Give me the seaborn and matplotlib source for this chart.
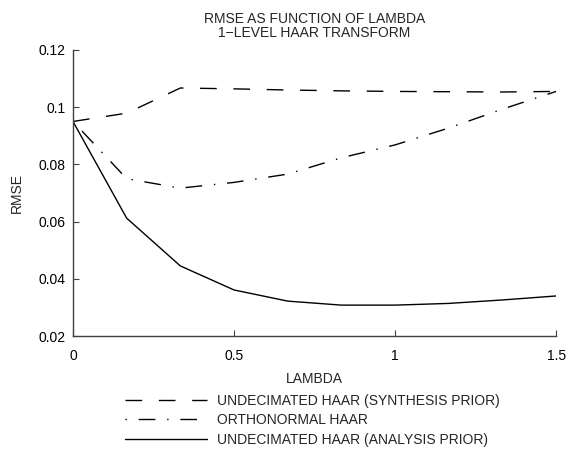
import matplotlib
matplotlib.use("Agg")
import matplotlib.pyplot as plt
import numpy as np
import pandas as pd
import seaborn as sns

# Lambda sampled at steps of 1/6 between 0 and 1.5
lam = [0.0, 1/6, 2/6, 3/6, 4/6, 5/6, 1.0, 7/6, 8/6, 1.5]

rmse_synthesis = [0.0950, 0.0979, 0.1067, 0.1064, 0.1060, 0.1057, 0.1055, 0.1054, 0.1053, 0.1055]
rmse_orthonormal = [0.0950, 0.0750, 0.0717, 0.0737, 0.0766, 0.0823, 0.0868, 0.0927, 0.0993, 0.1055]
rmse_analysis = [0.0950, 0.0612, 0.0445, 0.0361, 0.0322, 0.0308, 0.0308, 0.0314, 0.0326, 0.0340]

labels = [
    "UNDECIMATED HAAR (SYNTHESIS PRIOR)",
    "ORTHONORMAL HAAR",
    "UNDECIMATED HAAR (ANALYSIS PRIOR)",
]

x_ticks = [0, 0.5, 1, 1.5]
x_tick_labels = ["0", "0.5", "1", "1.5"]
y_ticks = [0.02, 0.04, 0.06, 0.08, 0.10, 0.12]
y_tick_labels = ["0.02", "0.04", "0.06", "0.08", "0.1", "0.12"]

sns.set_style("ticks")
plt.rcParams["font.family"] = ["Liberation Sans", "DejaVu Sans"]
plt.rcParams["font.size"] = 10

fig = plt.figure(figsize=(5.68, 4.5), dpi=100)
ax = fig.add_axes([0.1285, 0.2533, 0.8505, 0.6357])

# dashed, dash-dot (starting on the dot), solid
styles = [
    (0, (12, 12)),
    (20.5, (12, 8.5, 1, 8.5)),
    "-",
]
series = [rmse_synthesis, rmse_orthonormal, rmse_analysis]

for vals, lab, ls in zip(series, labels, styles):
    df = pd.DataFrame({"LAMBDA": lam, "RMSE": vals})
    sns.lineplot(data=df, x="LAMBDA", y="RMSE", ax=ax, color="black",
                 linewidth=1.0, linestyle=ls, label=lab)

ax.set_xlim(0, 1.5)
ax.set_ylim(0.02, 0.12)
ax.set_xticks(x_ticks)
ax.set_xticklabels(x_tick_labels)
ax.set_yticks(y_ticks)
ax.set_yticklabels(y_tick_labels)

for side in ("top", "right"):
    ax.spines[side].set_visible(False)
for side in ("left", "bottom"):
    ax.spines[side].set_color("#404040")
    ax.spines[side].set_linewidth(1.0)

ax.tick_params(axis="both", direction="in", length=4, width=0.8,
               color="#404040", labelsize=10, labelcolor="black")
ax.tick_params(axis="x", pad=9.5)
ax.tick_params(axis="y", pad=5.5)

ax.set_xlabel("LAMBDA", fontsize=10, labelpad=6)
ax.set_ylabel("RMSE", fontsize=10, labelpad=10)
ax.set_title("RMSE AS FUNCTION OF LAMBDA\n1\u2212LEVEL HAAR TRANSFORM",
             fontsize=10, linespacing=1.0, pad=9)

ax.legend(loc="upper left", bbox_to_anchor=(125 / 568, 1 - 394 / 450),
          bbox_transform=fig.transFigure, frameon=False, borderpad=0,
          borderaxespad=0, handlelength=5.9, handletextpad=0.75,
          labelspacing=0.38, fontsize=10)

fig.savefig("out.png", dpi=100)
